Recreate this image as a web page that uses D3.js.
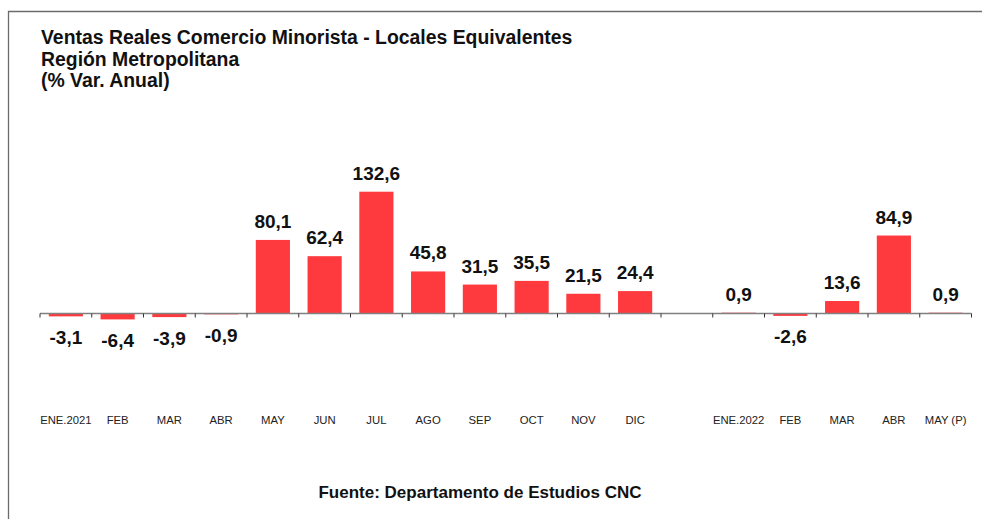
<!DOCTYPE html>
<html>
<head>
<meta charset="utf-8">
<script src="https://cdn.jsdelivr.net/npm/d3@7"></script>
<style>
  html, body { margin: 0; padding: 0; background: #fff; }
  svg { display: block; }
  text { font-family: "Liberation Sans", Arial, sans-serif; }
</style>
</head>
<body>
<svg id="chart" width="982" height="519"></svg>
<script>
const categories = ["ENE.2021","FEB","MAR","ABR","MAY","JUN","JUL","AGO","SEP","OCT","NOV","DIC","","ENE.2022","FEB ","MAR ","ABR ","MAY (P)"];
const labels = ["ENE.2021","FEB","MAR","ABR","MAY","JUN","JUL","AGO","SEP","OCT","NOV","DIC","","ENE.2022","FEB","MAR","ABR","MAY (P)"];
const values = [-3.1,-6.4,-3.9,-0.9,80.1,62.4,132.6,45.8,31.5,35.5,21.5,24.4,null,0.9,-2.6,13.6,84.9,0.9];
const titleLines = ["Ventas Reales Comercio Minorista - Locales Equivalentes","Región Metropolitana","(% Var. Anual)"];
const source = "Fuente: Departamento de Estudios CNC";

const svg = d3.select("#chart");

// frame
svg.append("path")
  .attr("d", "M8.5,519 L8.5,11.5 L982,11.5")
  .attr("fill", "none").attr("stroke", "#6b6b6b").attr("stroke-width", 1.3);

// title
const title = svg.append("text").attr("x", 41).attr("y", 44)
  .attr("font-size", 19.4).attr("font-weight", "bold").attr("fill", "#111");
titleLines.forEach((t, i) => {
  title.append("tspan").attr("x", 41).attr("y", 44 + i * 21.5).text(t);
});

const x = d3.scaleBand().domain(categories).range([40, 971.5]).paddingInner(0.34).paddingOuter(0.17);
const y = d3.scaleLinear().domain([-10, 140]).range([322.7, 184.9]);
const fmt = v => d3.format(".1f")(v).replace(".", ",").replace("\u2212", "-");

const data = categories.map((c, i) => ({ c, label: labels[i], v: values[i] }));

// bars
svg.append("g").selectAll("rect")
  .data(data.filter(d => d.v !== null))
  .join("rect")
  .attr("x", d => x(d.c))
  .attr("width", x.bandwidth())
  .attr("y", d => y(Math.max(0, d.v)))
  .attr("height", d => Math.abs(y(d.v) - y(0)))
  .attr("fill", "#ff3a3e");

// axis
const step = (971.5 - 40) / categories.length;
const axisG = svg.append("g");
axisG.append("line").attr("x1", 40).attr("x2", 971.5)
  .attr("y1", y(0)).attr("y2", y(0))
  .attr("stroke", "#808080").attr("stroke-width", 1.5);
d3.range(categories.length + 1).forEach(i => {
  axisG.append("line")
    .attr("x1", 40 + i * step).attr("x2", 40 + i * step)
    .attr("y1", y(0)).attr("y2", y(0) + 4)
    .attr("stroke", "#333").attr("stroke-width", 1);
});

// category labels
svg.append("g").selectAll("text")
  .data(data)
  .join("text")
  .attr("x", d => x(d.c) + x.bandwidth() / 2)
  .attr("y", 424)
  .attr("text-anchor", "middle")
  .attr("font-size", 11.3)
  .attr("fill", "#222")
  .text(d => d.label);

// value labels
svg.append("g").selectAll("text")
  .data(data.filter(d => d.v !== null))
  .join("text")
  .attr("x", d => x(d.c) + x.bandwidth() / 2)
  .attr("y", d => d.v >= 0 ? y(d.v) - 12 : y(d.v) + 27.5)
  .attr("text-anchor", "middle")
  .attr("font-size", 19)
  .attr("font-weight", "bold")
  .attr("fill", "#111")
  .text(d => fmt(d.v));

// source
svg.append("text").attr("x", 480).attr("y", 498)
  .attr("text-anchor", "middle")
  .attr("font-size", 17).attr("font-weight", "bold").attr("fill", "#111")
  .text(source);
</script>
</body>
</html>
